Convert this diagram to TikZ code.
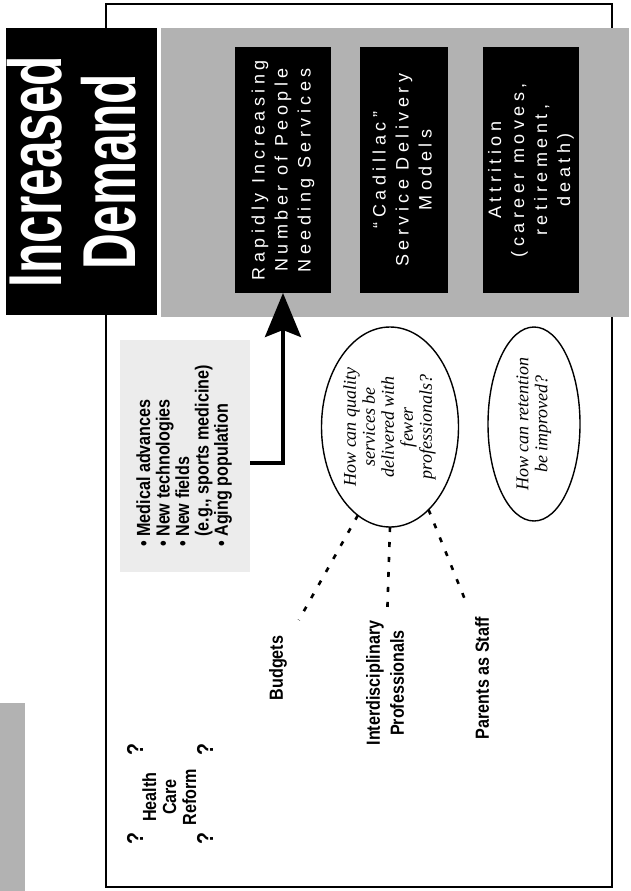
\documentclass[tikz,border=0pt]{standalone}
\usepackage{fontspec}
\usepackage{graphicx}
\setmainfont{Liberation Sans}
\newfontfamily\condfont[FakeStretch=0.85]{Liberation Sans}
\newfontfamily\titlefont[FakeStretch=0.66]{Liberation Sans}
\newfontfamily\spacedfont[LetterSpace=25]{Liberation Sans}
\newfontfamily\handfont{Liberation Serif}
\usetikzlibrary{arrows.meta,shapes.geometric}
\newcommand{\rot}[1]{\rotatebox{90}{\begin{tabular}{@{}c@{}}#1\end{tabular}}}
\newcommand{\rotl}[1]{\rotatebox{90}{\begin{tabular}{@{}l@{}}#1\end{tabular}}}

\begin{document}
\begin{tikzpicture}[x=1pt,y=-1pt]
        \tikzstyle{every node}=[inner sep=0pt, outer sep=0pt, text=black]
        \tikzstyle{darkbox}=[rectangle, fill=black, text=white, minimum height=246pt, font=\spacedfont\fontsize{18}{23}\selectfont]
        \tikzstyle{bubble}=[ellipse, draw=black, line width=1.4pt, font=\handfont\itshape\fontsize{18}{19}\selectfont]
        \tikzstyle{lbl}=[font=\condfont\bfseries\fontsize{19}{24}\selectfont]
        \tikzstyle{dashlink}=[black, line width=2.6pt, dash pattern=on 5pt off 10pt]

        \useasboundingbox (0,0) rectangle (631,891);
        \fill[gray!60] (0,703) rectangle (25,891);
        \draw[line width=2.2pt] (106,4) rectangle (612,887);

        \node[fill=black, text=white, minimum width=151pt, minimum height=287pt] (title) at (81.5,171.5) {\titlefont\bfseries\fontsize{75}{68}\selectfont\rot{Increased\\Demand}};
        \node[fill=gray!60, minimum width=468pt, minimum height=289pt] (band) at (395,172.5) {};

        \node[darkbox, minimum width=96pt] (rapid)     at (283,170) {\rot{Rapidly Increasing\\Number of People\\Needing Services}};
        \node[darkbox, minimum width=88pt] (cadillac)  at (404,170) {\rot{“Cadillac”\\Service Delivery\\Models}};
        \node[darkbox, minimum width=96pt] (attrition) at (531,170) {\rot{Attrition\\(career moves,\\retirement,\\death)}};

        \node[fill=gray!15, minimum width=130pt, minimum height=232pt, font=\condfont\bfseries\fontsize{19}{19}\selectfont] (bullets) at (185,456)
            {\rotl{• Medical advances\\• New technologies\\• New fields\\\phantom{• }(e.g., sports medicine)\\• Aging population}};

        \node[bubble, minimum width=137pt, minimum height=200pt] (quality)   at (390,427) {\rot{How can quality\\services be\\delivered with\\fewer\\professionals?}};
        \node[bubble, minimum width=92pt,  minimum height=194pt] (retention) at (534,424) {\rot{How can retention\\be improved?}};

        \node[lbl] (budgets)   at (278,668) {\rot{Budgets}};
        \node[lbl] (interdisc) at (387,683) {\rot{Interdisciplinary\\Professionals}};
        \node[lbl] (parents)   at (484,678) {\rot{Parents as Staff}};

        \node[lbl, font=\condfont\bfseries\fontsize{19}{20}\selectfont] (reform) at (172,797) {\rot{Health\\Care\\Reform}};
        \node[lbl, font=\condfont\bfseries\fontsize{23}{24}\selectfont] (q1) at (135,839) {\rotatebox{90}{?}};
        \node[lbl, font=\condfont\bfseries\fontsize{23}{24}\selectfont] (q2) at (135,750) {\rotatebox{90}{?}};
        \node[lbl, font=\condfont\bfseries\fontsize{23}{24}\selectfont] (q3) at (205,839) {\rotatebox{90}{?}};
        \node[lbl, font=\condfont\bfseries\fontsize{23}{24}\selectfont] (q4) at (205,750) {\rotatebox{90}{?}};

        \draw[line width=4pt, -{Stealth[length=44pt, width=36pt, inset=7pt]}] ([yshift=-7pt]bullets.east) -| (rapid.south);

        \draw[dashlink, shorten >=18pt] (quality.250) -- (budgets.north east);
        \draw[dashlink, shorten >=10pt] (quality.south) -- (interdisc.north);
        \draw[dashlink, shorten >=12pt] (quality.295) -- (parents.north west);
\end{tikzpicture}
\end{document}
